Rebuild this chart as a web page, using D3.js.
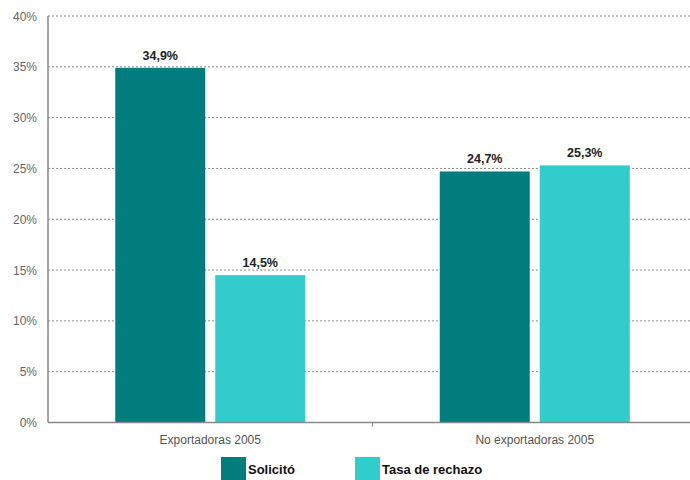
<!DOCTYPE html>
<html><head><meta charset="utf-8">
<script src="https://cdn.jsdelivr.net/npm/d3@7"></script>
<style>body{margin:0;background:#fff}svg{display:block;font-family:"Liberation Sans",Arial,sans-serif}</style>
</head><body><svg id="c" width="690" height="480"></svg>
<script>
const categories = ["Exportadoras 2005", "No exportadoras 2005"];
const seriesNames = ["Solicitó", "Tasa de rechazo"];
const solicito = [34.9, 24.7];
const rechazo = [14.5, 25.3];
const valueLabels = [["34,9%", "14,5%"], ["24,7%", "25,3%"]];
const yTicks = [0, 5, 10, 15, 20, 25, 30, 35, 40];
const colors = ["#017d7d", "#33cccc"];

(function () {
const svg = d3.select("#c");
const mLeft = 48, mRight = 697, mTop = 16, mBottom = 422.5;
const x = d3.scaleBand().domain(categories).range([mLeft, mRight]).padding(0);
const y = d3.scaleLinear().domain([0, 40]).range([mBottom, mTop]);
const barW = 90, gap = 10;

// grid
svg.append("g").selectAll("line").data(yTicks.filter(d => d > 0)).join("line")
  .attr("x1", mLeft).attr("x2", mRight).attr("y1", d => y(d)).attr("y2", d => y(d))
  .attr("stroke", "#8a8a8a").attr("stroke-width", 1).attr("stroke-dasharray", "2,2");

// y labels
svg.append("g").selectAll("text").data(yTicks).join("text")
  .attr("x", 37).attr("y", d => y(d) + 4.5).attr("text-anchor", "end")
  .attr("font-size", 12).attr("fill", "#666").text(d => d + "%");

const data = categories.map((c, i) => ({c, vals: [solicito[i], rechazo[i]], labels: valueLabels[i]}));
const g = svg.append("g");
data.forEach(d => {
  const cx = x(d.c) + x.bandwidth() / 2;
  d.vals.forEach((v, j) => {
    const x0 = cx - gap / 2 - barW + j * (barW + gap);
    g.append("rect").attr("x", x0).attr("y", y(v)).attr("width", barW)
      .attr("height", y(0) - y(v)).attr("fill", colors[j]);
    g.append("text").attr("x", x0 + barW / 2).attr("y", y(v) - 8)
      .attr("text-anchor", "middle").attr("font-size", 12.5).attr("font-weight", "bold")
      .attr("fill", "#222").text(d.labels[j]);
  });
  svg.append("text").attr("x", cx).attr("y", 444).attr("text-anchor", "middle")
    .attr("font-size", 12).attr("fill", "#555").text(d.c);
});

// axes
svg.append("line").attr("x1", mLeft).attr("x2", mLeft).attr("y1", mTop).attr("y2", mBottom)
  .attr("stroke", "#888").attr("stroke-width", 1.5);
svg.append("line").attr("x1", mLeft).attr("x2", mRight).attr("y1", mBottom).attr("y2", mBottom)
  .attr("stroke", "#888").attr("stroke-width", 1.5);
svg.append("line").attr("x1", x(categories[1])).attr("x2", x(categories[1]))
  .attr("y1", mBottom).attr("y2", mBottom + 4).attr("stroke", "#888");

// legend
const leg = [{x: 221, name: seriesNames[0], c: colors[0]}, {x: 355, name: seriesNames[1], c: colors[1]}];
leg.forEach(l => {
  svg.append("rect").attr("x", l.x).attr("y", 457).attr("width", 25).attr("height", 25).attr("fill", l.c);
  svg.append("text").attr("x", l.x + 27).attr("y", 474).attr("font-size", 13)
    .attr("font-weight", "bold").attr("fill", "#111").text(l.name);
});
})();
</script></body></html>
